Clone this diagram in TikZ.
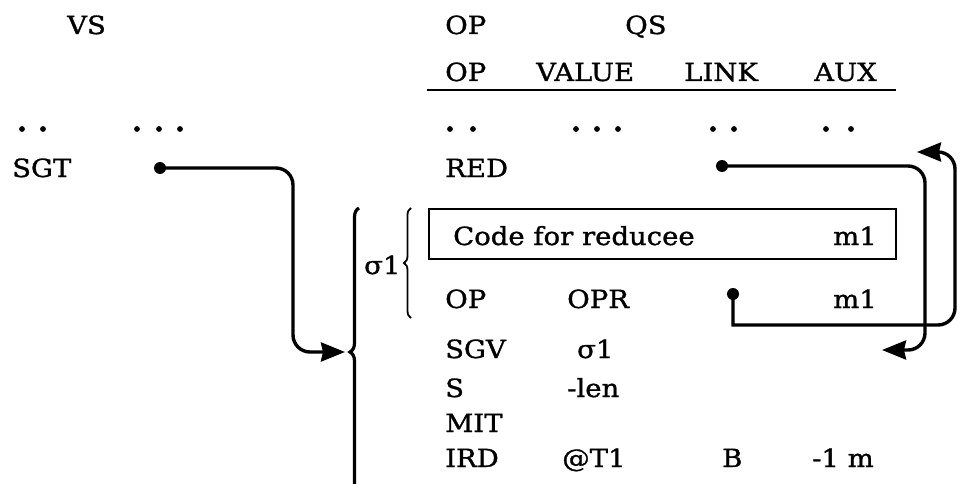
\documentclass[tikz,border=0pt]{standalone}
\usepackage{fontspec}
\setmainfont{DejaVu Serif}[FakeStretch=1.1,RawFeature={embolden=1.2}]
\usetikzlibrary{arrows.meta,decorations.pathreplacing}
\tikzset{
  txt/.style={anchor=base west,inner sep=0pt,font=\fontsize{25}{30}\selectfont},
  txtr/.style={txt,anchor=base east},
  ptr/.style={circle,fill,inner sep=0pt,minimum size=12pt},
  link/.style={line width=3.4pt,-{Stealth[length=24pt,width=19pt,inset=2pt]}},
  brc/.style={decorate,decoration={brace,amplitude=#1}},
}

\begin{document}
\begin{tikzpicture}[x=1pt,y=-1pt]
  \useasboundingbox (0,0) rectangle (961,484);

  % titles
  \node[txt] (vs) at (67,34) {VS};
  \node[txt] (qop) at (445,34) {OP};
  \node[txt] (qs) at (625,34) {QS};

  % column heads of QS
  \node[txt] (hop) at (445,81) {OP};
  \node[txt] (hval) at (536,81) {VALUE};
  \node[txt] (hlink) at (684,81) {LINK};
  \node[txt] (haux) at (814,81) {AUX};
  \draw[line width=2pt] (427,90) -- (896,90);

  % elided rows
  \foreach \x in {22,43,137,159,180,450,473,576,597,618,713,734,826,851}
    \fill (\x,129) circle (2.9);

  % VS entry
  \node[txt] (sgt) at (12,177) {SGT};
  \node[ptr] (sgtp) at (160,168) {};

  % QS entries
  \node[txt] (red) at (445,177) {RED};
  \node[ptr] (redp) at (722,166) {};

  \node[draw,line width=2.4pt,inner sep=0pt,anchor=north west,
        minimum width=467pt,minimum height=50pt] (code) at (428,208) {};
  \node[txt] (codet) at (453,245) {Code for reducee};
  \node[txtr] (codem) at (877,245) {m1};

  \node[txt] (op) at (445,308) {OP};
  \node[txt] (opr) at (567,308) {OPR};
  \node[ptr] (opp) at (733,294) {};
  \node[txtr] (opm) at (877,308) {m1};

  \node[txt] (sgv) at (445,358) {SGV};
  \node[txt] (sgvv) at (577,358) {σ1};
  \node[txt] (s) at (445,397) {S};
  \node[txt] (slen) at (567,397) {-len};
  \node[txt] (mit) at (445,432) {MIT};
  \node[txt] (ird) at (445,467) {IRD};
  \node[txt] (irdv) at (562,467) {@T1};
  \node[txt] (irdl) at (722,467) {B};
  \node[txt] (irda) at (812,467) {-1 m};

  % segment braces
  \draw[brc=9pt,line width=3.2pt] (359,496) -- (359,208);
  \draw[brc=7pt,line width=1.8pt] (411,318) -- (411,208);
  \node[txt] (sig) at (364,274) {σ1};

  \coordinate (vtip) at (345,352);
  \coordinate (qtip) at (882,350);
  \coordinate (rtip) at (917,152);

  % links
  \draw[link] (sgtp.center) [rounded corners=17pt] -- ++(133,0) |- (vtip) [sharp corners];
  \draw[link] (redp.center) [rounded corners=17pt] -- ++(203,0) |- (qtip) [sharp corners];
  \draw[link] (opp.center) -- ++(0,31) [rounded corners=17pt] -- ++(222,0) |- (rtip) [sharp corners];

\end{tikzpicture}
\end{document}
